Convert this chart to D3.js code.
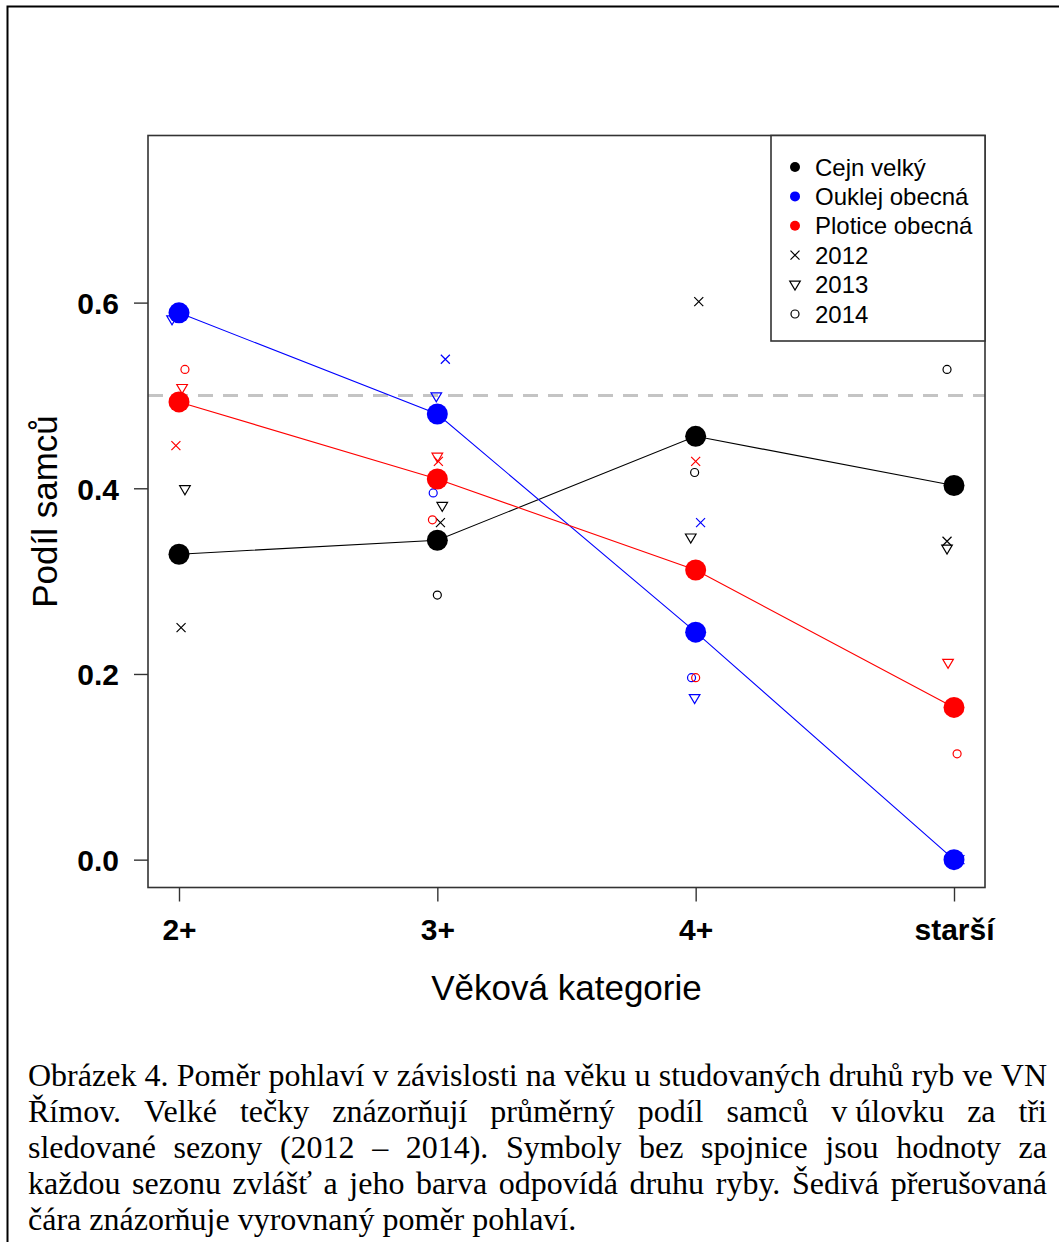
<!DOCTYPE html>
<html><head><meta charset="utf-8">
<script src="https://cdn.jsdelivr.net/npm/d3@7"></script>
<style>body{margin:0;background:#fff} svg{display:block}</style>
</head><body>
<script>
// ---------- DATA ----------
const categories = ["2+", "3+", "4+", "starší"];
const speciesNames = ["Cejn velký", "Ouklej obecná", "Plotice obecná"];
const yearNames = ["2012", "2013", "2014"];
const yTicks = [0.0, 0.2, 0.4, 0.6];
const balancedRatio = 0.5;

// mean share of males over three seasons
const meanCejn    = [0.329, 0.344, 0.456, 0.403];
const meanOuklej  = [0.589, 0.480, 0.245, 0.000];
const meanPlotice = [0.493, 0.410, 0.312, 0.164];

// per-season values
const cejn2012    = [0.250, 0.363, 0.601, 0.343];
const cejn2013    = [0.399, 0.381, 0.347, 0.335];
const cejn2014    = [0.331, 0.285, 0.417, 0.528];
const ouklej2012  = [0.592, 0.539, 0.363, 0.000];
const ouklej2013  = [0.582, 0.499, 0.174, 0.000];
const ouklej2014  = [0.593, 0.395, 0.196, 0.000];
const plotice2012 = [0.446, 0.429, 0.429, 0.166];
const plotice2013 = [0.508, 0.434, 0.311, 0.212];
const plotice2014 = [0.528, 0.366, 0.196, 0.114];

// horizontal jitter of per-season points (in category units)
const jitCejn2012    = [0.008, 0.012, 0.012, -0.027];
const jitCejn2013    = [0.023, 0.019, -0.019, -0.027];
const jitCejn2014    = [0.000, 0.000, -0.004, -0.027];
const jitOuklej2012  = [0.000, 0.031, 0.019, 0.023];
const jitOuklej2013  = [-0.027, -0.004, -0.004, 0.000];
const jitOuklej2014  = [0.000, -0.016, -0.016, 0.000];
const jitPlotice2012 = [-0.012, 0.004, 0.000, 0.000];
const jitPlotice2013 = [0.012, 0.000, 0.000, -0.023];
const jitPlotice2014 = [0.023, -0.019, 0.000, 0.012];

const captionLines = [
  "Obrázek 4. Poměr pohlaví v závislosti na věku u studovaných druhů ryb ve VN",
  "Římov. Velké tečky znázorňují průměrný podíl samců v\u00a0úlovku za tři",
  "sledované sezony (2012 – 2014). Symboly bez spojnice jsou hodnoty za",
  "každou sezonu zvlášť a jeho barva odpovídá druhu ryby. Šedivá přerušovaná",
  "čára znázorňuje vyrovnaný poměr pohlaví."
];

// ---------- STYLE ----------
const colors = ["#000000", "#0000FF", "#FF0000"];
const W = 1059, H = 1242;
const box = {l: 148, r: 985, t: 135.5, b: 887.5};
const sans = "'Liberation Sans', Arial, sans-serif";

const svg = d3.select("body").append("svg").attr("width", W).attr("height", H);
svg.append("rect").attr("width", W).attr("height", H).attr("fill", "#fff");
// outer frame
svg.append("path").attr("d", `M7.5,${H} V6.5 H${W}`).attr("fill", "none")
  .attr("stroke", "#000").attr("stroke-width", 2);

const x = d3.scaleLinear().domain([0.88, 4.12]).range([box.l, box.r]);
const y = d3.scaleLinear().domain([-0.03, 0.78]).range([box.b, box.t]);

// dashed reference line
svg.append("line").attr("x1", box.l).attr("x2", box.r)
  .attr("y1", y(balancedRatio)).attr("y2", y(balancedRatio))
  .attr("stroke", "#C4C4C4").attr("stroke-width", 3).attr("stroke-dasharray", "15,10");

// per-season points
const seasonSets = [
  [cejn2012, jitCejn2012, 0, 0], [cejn2013, jitCejn2013, 0, 1], [cejn2014, jitCejn2014, 0, 2],
  [ouklej2012, jitOuklej2012, 1, 0], [ouklej2013, jitOuklej2013, 1, 1], [ouklej2014, jitOuklej2014, 1, 2],
  [plotice2012, jitPlotice2012, 2, 0], [plotice2013, jitPlotice2013, 2, 1], [plotice2014, jitPlotice2014, 2, 2]
];
function drawSymbol(g, kind, cx, cy, col) {
  if (kind === 0) {
    g.append("path").attr("d", `M${cx-4.5},${cy-4.5}L${cx+4.5},${cy+4.5}M${cx-4.5},${cy+4.5}L${cx+4.5},${cy-4.5}`)
      .attr("stroke", col).attr("stroke-width", 1.2).attr("fill", "none");
  } else if (kind === 1) {
    g.append("path").attr("d", `M${cx-5.3},${cy-3.5}L${cx+5.3},${cy-3.5}L${cx},${cy+5.5}Z`)
      .attr("stroke", col).attr("stroke-width", 1.2).attr("fill", "none");
  } else {
    g.append("circle").attr("cx", cx).attr("cy", cy).attr("r", 4)
      .attr("stroke", col).attr("stroke-width", 1.2).attr("fill", "none");
  }
}
const ptsG = svg.append("g");
seasonSets.forEach(([vals, jit, sp, yr]) => {
  vals.forEach((v, i) => drawSymbol(ptsG, yr, x(i + 1 + jit[i]), y(v), colors[sp]));
});

// mean lines and dots
const means = [meanCejn, meanOuklej, meanPlotice];
const line = d3.line().x((d, i) => x(i + 1)).y(d => y(d));
means.forEach((m, s) => {
  svg.append("path").attr("d", line(m)).attr("fill", "none")
    .attr("stroke", colors[s]).attr("stroke-width", 1.1);
});
means.forEach((m, s) => {
  svg.append("g").selectAll("circle").data(m).join("circle")
    .attr("cx", (d, i) => x(i + 1)).attr("cy", d => y(d)).attr("r", 10.5)
    .attr("fill", colors[s]);
});

// plot box
svg.append("rect").attr("x", box.l).attr("y", box.t)
  .attr("width", box.r - box.l).attr("height", box.b - box.t)
  .attr("fill", "none").attr("stroke", "#333").attr("stroke-width", 1.6);

// axes
const yAxis = svg.append("g").attr("transform", `translate(${box.l},0)`)
  .call(d3.axisLeft(y).tickValues(yTicks).tickFormat(d3.format(".1f")).tickSize(14).tickPadding(15));
yAxis.select(".domain").remove();
yAxis.selectAll("line").attr("stroke", "#333").attr("stroke-width", 1.4);
yAxis.selectAll("text").attr("font-family", sans).attr("font-weight", "bold")
  .attr("font-size", 30).attr("fill", "#000").attr("dy", "0.36em");

const xAxis = svg.append("g").attr("transform", `translate(0,${box.b})`)
  .call(d3.axisBottom(x).tickValues([1, 2, 3, 4]).tickFormat((d, i) => categories[i]).tickSize(14).tickPadding(17));
xAxis.select(".domain").remove();
xAxis.selectAll("line").attr("stroke", "#333").attr("stroke-width", 1.4);
xAxis.selectAll("text").attr("font-family", sans).attr("font-weight", "bold")
  .attr("font-size", 30).attr("fill", "#000");

svg.append("text").attr("x", (box.l + box.r) / 2).attr("y", 1000)
  .attr("text-anchor", "middle").attr("font-family", sans).attr("font-size", 35)
  .text("Věková kategorie");
svg.append("text").attr("transform", `translate(57,${(box.t + box.b) / 2}) rotate(-90)`)
  .attr("text-anchor", "middle").attr("font-family", sans).attr("font-size", 35)
  .text("Podíl samců");

// legend
const lg = svg.append("g");
lg.append("rect").attr("x", 771).attr("y", box.t).attr("width", box.r - 771).attr("height", 341 - box.t)
  .attr("fill", "#fff").attr("stroke", "#333").attr("stroke-width", 1.6);
const legendItems = speciesNames.map((n, i) => ({label: n, type: "dot", col: colors[i]}))
  .concat(yearNames.map((n, i) => ({label: n, type: i, col: "#000"})));
legendItems.forEach((it, i) => {
  const cy = 167 + i * 29.4;
  if (it.type === "dot") lg.append("circle").attr("cx", 795).attr("cy", cy).attr("r", 5).attr("fill", it.col);
  else drawSymbol(lg, it.type, 795, cy, it.col);
  lg.append("text").attr("x", 815).attr("y", cy + 8.5).attr("font-family", sans)
    .attr("font-size", 24).attr("fill", "#000").text(it.label);
});

// caption (justified)
const capG = svg.append("g").attr("font-family", "'Liberation Serif', 'Times New Roman', serif")
  .attr("font-size", 32).attr("fill", "#000");
const capL = 28, capR = 1047;
captionLines.forEach((ln, li) => {
  const by = 1086 + li * 36;
  const words = ln.split(" ");
  if (li === captionLines.length - 1) {
    capG.append("text").attr("x", capL).attr("y", by).text(ln);
    return;
  }
  const nodes = words.map(w => capG.append("text").attr("y", by).text(w));
  const widths = nodes.map(n => n.node().getComputedTextLength());
  const total = d3.sum(widths);
  const gap = (capR - capL - total) / (words.length - 1);
  let cx = capL;
  nodes.forEach((n, i) => { n.attr("x", cx); cx += widths[i] + gap; });
});
</script>
</body></html>
